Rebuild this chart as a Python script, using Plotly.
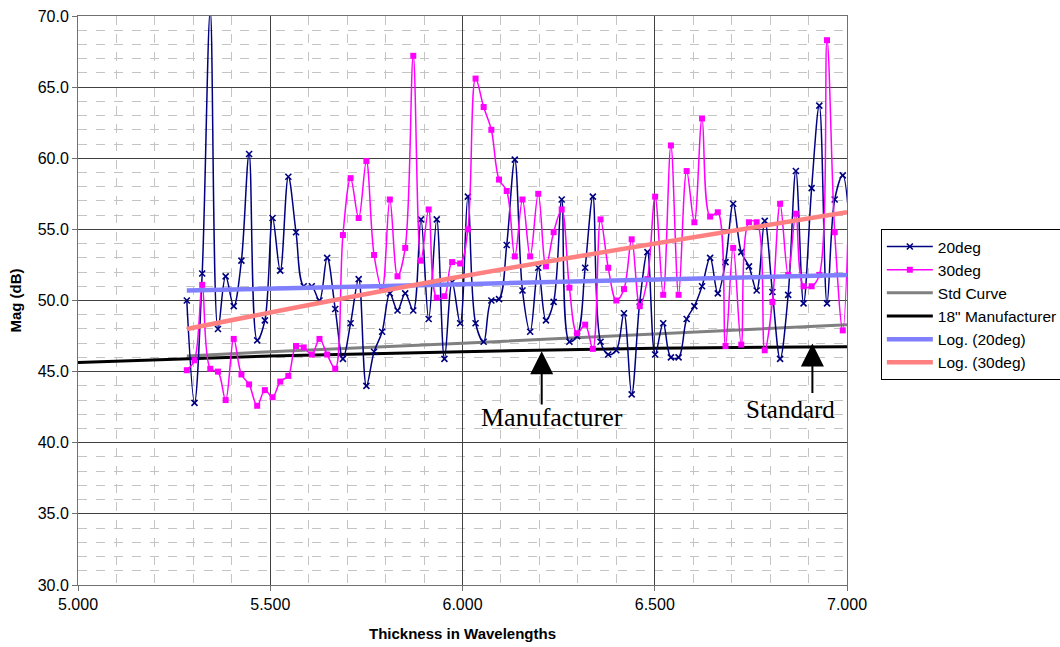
import plotly.graph_objects as go

thickness = [5.283, 5.303, 5.323, 5.344, 5.364, 5.384, 5.405, 5.425, 5.445, 5.466,
             5.486, 5.506, 5.526, 5.547, 5.567, 5.587, 5.608, 5.628, 5.648, 5.669,
             5.689, 5.709, 5.730, 5.750, 5.770, 5.791, 5.811, 5.831, 5.851, 5.872,
             5.892, 5.912, 5.933, 5.953, 5.973, 5.994, 6.014, 6.034, 6.055, 6.075,
             6.095, 6.115, 6.136, 6.156, 6.176, 6.197, 6.217, 6.237, 6.258, 6.278,
             6.298, 6.319, 6.339, 6.359, 6.379, 6.400, 6.420, 6.440, 6.461, 6.481,
             6.501, 6.522, 6.542, 6.562, 6.583, 6.603, 6.623, 6.644, 6.664, 6.684,
             6.704, 6.725, 6.745, 6.765, 6.786, 6.806, 6.826, 6.847, 6.867, 6.887,
             6.908, 6.928, 6.948, 6.968, 6.989, 7.009]

mag_20deg = [50.0, 42.8, 51.9, 70.4, 48.0, 51.7, 49.6, 52.8, 60.3, 47.2,
             48.6, 55.8, 52.1, 58.7, 54.8, 51.0, 51.0, 50.0, 53.0, 49.4,
             45.9, 48.4, 51.5, 44.0, 46.4, 47.8, 50.5, 49.3, 50.5, 49.3,
             55.7, 48.7, 55.7, 45.9, 51.3, 48.4, 57.3, 48.4, 47.1, 50.0,
             50.1, 53.9, 59.9, 50.7, 47.8, 52.3, 48.6, 49.9, 57.1, 47.1,
             47.5, 52.3, 57.3, 47.1, 46.2, 46.5, 49.1, 43.4, 49.9, 53.4,
             46.2, 48.4, 46.0, 46.0, 48.7, 49.6, 51.0, 53.0, 50.5, 52.7,
             56.8, 53.4, 52.4, 50.7, 55.6, 50.6, 45.9, 50.4, 59.1, 49.8,
             57.9, 63.7, 49.8, 57.1, 58.8, 54.0]

mag_30deg = [45.1, 45.8, 51.1, 45.2, 45.0, 43.0, 47.3, 44.8, 44.1, 42.6,
             43.7, 43.2, 44.3, 44.7, 46.8, 46.7, 46.2, 47.3, 46.2, 45.2,
             54.6, 58.6, 55.8, 59.8, 53.2, 50.8, 57.1, 51.7, 53.7, 67.2,
             52.8, 56.4, 50.2, 50.3, 52.7, 52.6, 55.0, 65.6, 63.6, 62.0,
             58.5, 57.7, 53.1, 57.1, 53.1, 57.5, 52.4, 54.8, 56.4, 50.9,
             47.7, 48.3, 46.6, 55.7, 52.3, 50.0, 50.8, 54.3, 49.6, 51.5,
             57.3, 50.4, 60.9, 50.4, 59.1, 55.5, 62.8, 55.9, 56.2, 46.8,
             53.7, 46.9, 55.5, 55.5, 46.5, 49.9, 56.8, 51.8, 56.1, 51.0,
             51.0, 51.8, 68.3, 54.8, 47.9, 62.0]

std_x = [5.283, 5.5, 6.0, 6.5, 7.0]
std_y = [46.1, 46.4, 47.0, 47.65, 48.3]

manu_x = [5.0, 5.5, 6.0, 6.5, 7.0]
manu_y = [45.65, 46.1, 46.4, 46.65, 46.75]

log20_x = [5.283, 6.0, 7.0]
log20_y = [50.7, 51.15, 51.8]

log30_x = [5.283, 6.0, 7.0]
log30_y = [48.0, 51.7, 56.2]

x_ticks = [5.0, 5.5, 6.0, 6.5, 7.0]
y_ticks = [30, 35, 40, 45, 50, 55, 60, 65, 70]

fig = go.Figure()

fig.add_trace(go.Scatter(x=std_x, y=std_y, mode="lines", name="Std Curve",
                         line=dict(color="#808080", width=3), legendrank=3))
fig.add_trace(go.Scatter(x=manu_x, y=manu_y, mode="lines", name='18" Manufacturer',
                         line=dict(color="#000000", width=3, shape="spline"), legendrank=4))
fig.add_trace(go.Scatter(x=thickness, y=mag_20deg, mode="lines+markers", name="20deg",
                         line=dict(color="#000080", width=1.5, shape="spline", smoothing=1),
                         marker=dict(symbol="x-thin", size=6, color="#000080",
                                     line=dict(color="#000080", width=1.6)),
                         legendrank=1))
fig.add_trace(go.Scatter(x=thickness, y=mag_30deg, mode="lines+markers", name="30deg",
                         line=dict(color="#ff00ff", width=1.5, shape="spline", smoothing=1),
                         marker=dict(symbol="square", size=6, color="#ff00ff"),
                         legendrank=2))
fig.add_trace(go.Scatter(x=log20_x, y=log20_y, mode="lines", name="Log. (20deg)",
                         line=dict(color="#8080ff", width=4.5, shape="spline"), legendrank=5))
fig.add_trace(go.Scatter(x=log30_x, y=log30_y, mode="lines", name="Log. (30deg)",
                         line=dict(color="#ff8080", width=4.5, shape="spline"), legendrank=6))

font_main = "Liberation Sans, Arial, sans-serif"
serif = "Liberation Serif, Times New Roman, serif"

fig.update_layout(
    width=1060, height=647,
    margin=dict(l=78, r=213, t=16, b=62, autoexpand=False),
    paper_bgcolor="white", plot_bgcolor="white",
    font=dict(family=font_main, size=16, color="black"),
    showlegend=True,
    legend=dict(x=1.044, y=0.6257, xanchor="left", yanchor="top",
                bordercolor="black", borderwidth=1, bgcolor="white",
                font=dict(size=15.5), itemwidth=46, tracegroupgap=0),
    xaxis=dict(range=[5.0, 7.0], tickvals=x_ticks, tickformat=".3f", automargin=False,
               showgrid=True, gridcolor="#404040", gridwidth=1,
               minor=dict(dtick=0.1, showgrid=True, gridcolor="#c4c4c4", griddash="dash", gridwidth=1),
               showline=True, linecolor="#707070", linewidth=1, mirror=True,
               ticks="outside", ticklen=5, tickcolor="#707070",
               zeroline=False,
               title=dict(text="<b>Thickness in Wavelengths</b>", font=dict(size=15), standoff=16)),
    yaxis=dict(range=[30, 70], tickvals=y_ticks, tickformat=".1f", automargin=False,
               showgrid=True, gridcolor="#404040", gridwidth=1,
               minor=dict(dtick=1, showgrid=True, gridcolor="#c4c4c4", griddash="dash", gridwidth=1),
               showline=True, linecolor="#707070", linewidth=1, mirror=True,
               ticks="outside", ticklen=5, tickcolor="#707070",
               zeroline=False,
               title=dict(text="<b>Mag (dB)</b>", font=dict(size=15), standoff=12)),
    annotations=[
        dict(x=6.206, y=46.44, ax=6.206, ay=42.58, xref="x", yref="y", axref="x", ayref="y",
             text="", showarrow=True, arrowhead=2, arrowsize=2.3, arrowwidth=2, arrowcolor="black"),
        dict(x=6.910, y=46.98, ax=6.910, ay=43.4, xref="x", yref="y", axref="x", ayref="y",
             text="", showarrow=True, arrowhead=2, arrowsize=2.3, arrowwidth=2, arrowcolor="black"),
        dict(x=6.233, y=41.8, xref="x", yref="y", text="Manufacturer", showarrow=False,
             font=dict(family=serif, size=26, color="black")),
        dict(x=6.854, y=42.35, xref="x", yref="y", text="Standard", showarrow=False,
             font=dict(family=serif, size=25, color="black")),
    ],
)

fig.write_html("out.html")
